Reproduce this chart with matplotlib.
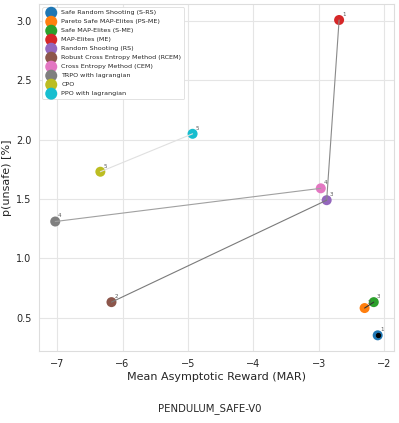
import matplotlib
matplotlib.use("Agg")
import matplotlib.pyplot as plt
import seaborn as sns

sns.set_style("whitegrid")
plt.rcParams['font.family'] = ['DejaVu Sans']

methods = ["Safe Random Shooting (S-RS)", "Pareto Safe MAP-Elites (PS-ME)", "Safe MAP-Elites (S-ME)",
           "MAP-Elites (ME)", "Random Shooting (RS)", "Robust Cross Entropy Method (RCEM)",
           "Cross Entropy Method (CEM)", "TRPO with lagrangian", "CPO", "PPO with lagrangian"]
mar = [-2.10, -2.30, -2.16, -2.69, -2.88, -6.17, -2.97, -7.03, -6.34, -4.93]
punsafe = [0.35, 0.58, 0.63, 3.01, 1.49, 0.63, 1.59, 1.31, 1.73, 2.05]
ranks = ["1", "2", "3", "1", "3", "2", "4", "4", "5", "5"]
colors = ["#1f77b4", "#ff7f0e", "#2ca02c", "#d62728", "#9467bd", "#8c564b",
          "#e377c2", "#7f7f7f", "#bcbd22", "#17becf"]
edges = [(3, 4), (4, 5), (6, 7), (8, 9), (1, 2)]
edge_colors = ["#8a8a8a", "#7a7a7a", "#a0a0a0", "#e0e0e0", "#333333"]

fig = plt.figure(figsize=(3.99, 4.23), dpi=100)
ax = fig.add_axes([0.098, 0.170, 0.889, 0.820])

for i in range(len(methods)):
    ax.scatter(mar[i], punsafe[i], s=52, color=colors[i], label=methods[i], zorder=3, edgecolors='none')
    ax.annotate(ranks[i], (mar[i], punsafe[i]), xytext=(2, 3), textcoords='offset points',
                fontsize=4, color='#555555', zorder=5)
ax.scatter(mar[0], punsafe[0], s=8, color='black', zorder=4)

for (a, b), c in zip(edges, edge_colors):
    ax.plot([mar[a], mar[b]], [punsafe[a], punsafe[b]], color=c, lw=0.8, zorder=4)

ax.set_xlabel("Mean Asymptotic Reward (MAR)", fontsize=8, color='#262626', labelpad=2)
ax.set_ylabel("p(unsafe) [%]", fontsize=8, color='#262626', labelpad=3)
ax.tick_params(labelsize=7, colors='#262626', pad=2)
for s in ax.spines.values():
    s.set_color('#dddddd')
ax.grid(color='#e5e5e5', lw=0.8)

leg = ax.legend(loc='upper left', fontsize=4.6, markerscale=1.2, handletextpad=0.6,
                labelspacing=0.55, borderpad=0.4, frameon=True, framealpha=1)
leg.get_frame().set_edgecolor('#dddddd')
leg.get_frame().set_linewidth(0.6)

fig.text(0.526, 0.027, "PENDULUM_SAFE-V0", ha='center', fontsize=7.3, color='#262626')

fig.savefig("out.png", dpi=100)
